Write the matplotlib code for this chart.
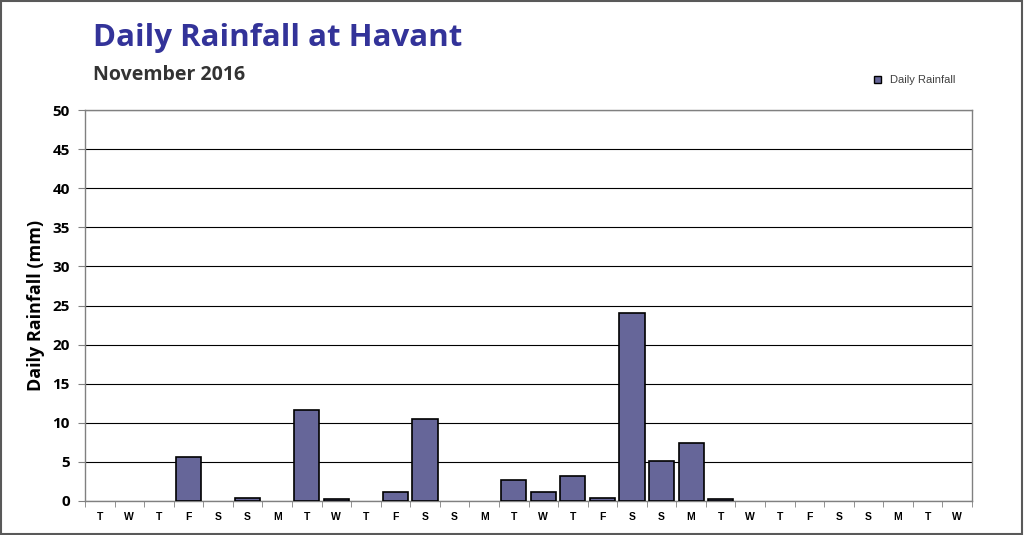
import numpy as np
import matplotlib
matplotlib.use("Agg")
import matplotlib.pyplot as plt
from matplotlib.patches import Rectangle, Patch

# November 2016, starting on a Tuesday
days = ["T", "W", "T", "F", "S", "S", "M", "T", "W", "T", "F", "S", "S", "M", "T",
        "W", "T", "F", "S", "S", "M", "T", "W", "T", "F", "S", "S", "M", "T", "W"]
rain = [0, 0, 0, 5.6, 0, 0.4, 0, 11.6, 0.2, 0, 1.2, 10.5, 0, 0, 2.7,
        1.2, 3.2, 0.4, 24.1, 5.1, 7.4, 0.2, 0, 0, 0, 0, 0, 0, 0, 0]
yticks = [0, 5, 10, 15, 20, 25, 30, 35, 40, 45, 50]

def main():
    fig = plt.figure(figsize=(10.24, 5.35), dpi=100)
    ax = fig.add_axes([85/1024, 1-501/535, 887/1024, 391/535])

    x = np.arange(len(days))
    lw = [1.2 if v > 0 else 0 for v in rain]  # dry days show no bar at all
    ax.bar(x, rain, width=0.85, color="#666699", edgecolor="black", linewidth=lw, zorder=3)

    ax.set_xlim(-0.5, len(days)-0.5)
    ax.set_ylim(0, 50)
    ax.set_yticks(yticks)
    ax.set_yticklabels([str(v) for v in yticks], fontfamily="Open Sans",
                       fontweight="bold", fontsize=11)
    ax.yaxis.grid(True, color="black", linewidth=0.8, zorder=0)

    # x labels at centres, ticks at the boundaries
    ax.set_xticks(x)
    ax.set_xticklabels(days, fontfamily="Liberation Sans", fontweight="bold", fontsize=7.5)
    ax.set_xticks(np.arange(len(days)+1)-0.5, minor=True)
    ax.tick_params(axis="x", which="major", length=0, pad=8)
    ax.tick_params(axis="x", which="minor", length=4, color="#808080", direction="out")
    ax.tick_params(axis="y", length=5, color="#808080", pad=6)

    for sp in ax.spines.values():
        sp.set_color("#808080")
        sp.set_linewidth(1.0)

    ax.set_ylabel("Daily Rainfall (mm)", fontfamily="Open Sans", fontweight="bold",
                  fontsize=13, labelpad=5)

    fig.text(93/1024, 1-38/535, "Daily Rainfall at Havant", color="#333399",
             fontfamily="Open Sans", fontweight="bold", fontsize=22.5, va="center", ha="left")
    fig.text(93/1024, 1-75/535, "November 2016", color="#333333",
             fontfamily="Open Sans", fontweight="bold", fontsize=14, va="center", ha="left")

    handle = Patch(facecolor="#666699", edgecolor="black", linewidth=1.0, label="Daily Rainfall")
    leg = fig.legend(handles=[handle], loc="center left", bbox_to_anchor=(864/1024, 1-80/535),
                     frameon=False, handlelength=0.6, handleheight=0.6,
                     prop={"family": "Liberation Sans", "size": 8})
    for t in leg.get_texts():
        t.set_color("#404040")

    fig.patches.append(Rectangle((0.001, 0.002), 0.997, 0.996, transform=fig.transFigure,
                                 fill=False, edgecolor="#595959", linewidth=1.5))

    plt.savefig("out.png", dpi=100)

if __name__ == "__main__":
    main()
